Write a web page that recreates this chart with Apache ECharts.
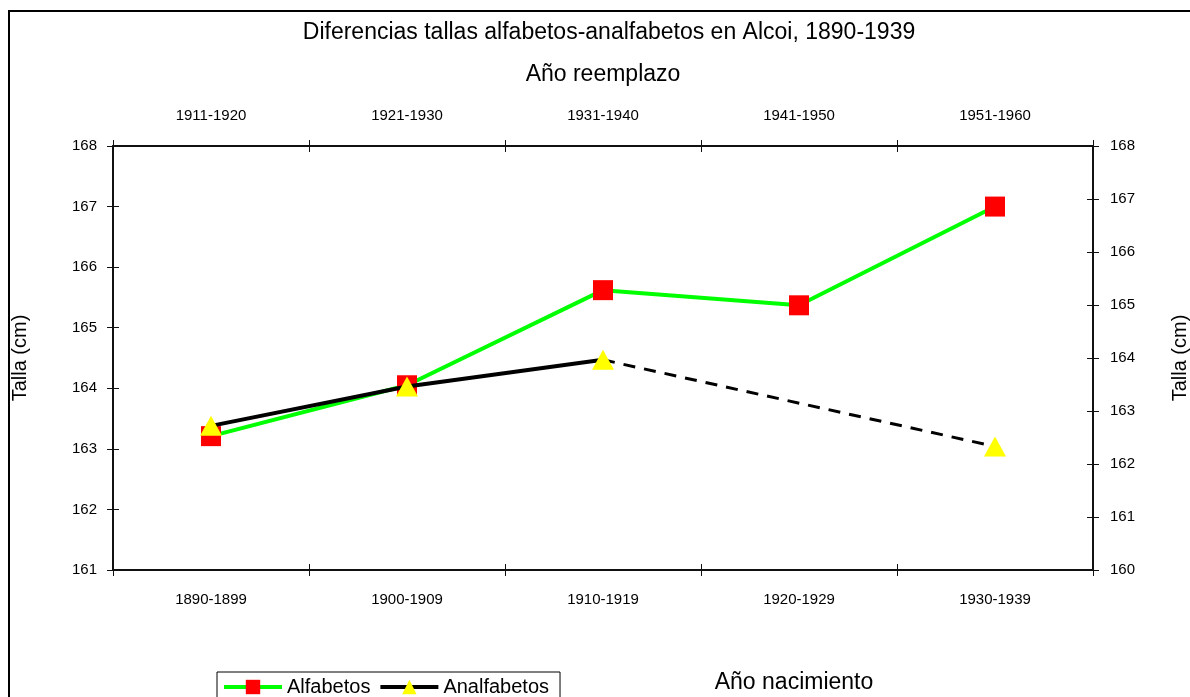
<!DOCTYPE html>
<html>
<head>
<meta charset="utf-8">
<script src="https://cdn.jsdelivr.net/npm/echarts@6/dist/echarts.min.js"></script>
<style>html,body{margin:0;padding:0;background:#fff;overflow:hidden}#c{width:1190px;height:697px}</style>
</head>
<body>
<div id="c"></div>
<script>
const categoriasNacimiento = ['1890-1899', '1900-1909', '1910-1919', '1920-1929', '1930-1939'];
const categoriasReemplazo = ['1911-1920', '1921-1930', '1931-1940', '1941-1950', '1951-1960'];
const alfabetos = [163.21, 164.05, 165.62, 165.37, 167.0];
const analfabetos = [163.38, 164.03, 164.47, null, 163.04];

// dashed bridge across missing values of analfabetos
const analfabetosTramo = analfabetos.map((v, i) => {
  const prevNull = i + 1 < analfabetos.length && analfabetos[i + 1] === null;
  const afterNull = i > 0 && analfabetos[i - 1] === null;
  return (prevNull || afterNull) ? v : null;
});

const FONT = "'Liberation Sans', Arial, sans-serif";
const chart = echarts.init(document.getElementById('c'), null, { width: 1190, height: 697 });
const axisLine = { show: true, lineStyle: { color: '#111', width: 2 } };
const tick = (inside, len) => ({ show: true, inside: inside, length: len, lineStyle: { color: '#111', width: 1 } });

chart.setOption({
  animation: false,
  backgroundColor: '#fff',
  textStyle: { fontFamily: FONT, color: '#000' },
  title: [
    { text: 'Diferencias tallas alfabetos-analfabetos en Alcoi, 1890-1939', left: 604, top: 16, textAlign: 'center',
      textStyle: { fontFamily: FONT, fontSize: 23, fontWeight: 'normal', color: '#000' } },
    { text: 'Año nacimiento', left: 789, top: 666, textAlign: 'center',
      textStyle: { fontFamily: FONT, fontSize: 23, fontWeight: 'normal', color: '#000' } }
  ],
  graphic: [
    { type: 'rect', shape: { x: 9, y: 11, width: 1200, height: 700 }, style: { fill: null, stroke: '#000', lineWidth: 2 }, silent: true }
  ],
  legend: {
    left: 217, top: 672,
    data: [
      { name: 'Alfabetos', itemStyle: { color: '#FF0000' }, lineStyle: { color: '#00FF00', width: 4 } },
      { name: 'Analfabetos', itemStyle: { color: '#FFFF00' }, lineStyle: { color: '#000', width: 4 } }
    ],
    borderColor: '#000', borderWidth: 1, borderRadius: 0,
    padding: [5, 11, 8, 5],
    itemWidth: 58, itemHeight: 18, itemGap: 8,
    textStyle: { fontFamily: FONT, fontSize: 20, color: '#000' }
  },
  grid: { left: 113, right: 97, top: 146, bottom: 127, containLabel: false, outerBoundsMode: 'none' },
  xAxis: [
    { type: 'category', position: 'bottom', data: categoriasNacimiento, boundaryGap: true,
      axisLine: axisLine, axisTick: tick(false, 6),
      axisLabel: { fontFamily: FONT, fontSize: 15, color: '#000', margin: 22 } },
    { type: 'category', position: 'top', data: categoriasReemplazo, boundaryGap: true,
      axisLine: axisLine, axisTick: tick(false, 6),
      axisLabel: { fontFamily: FONT, fontSize: 15, color: '#000', margin: 23 },
      name: 'Año reemplazo', nameLocation: 'middle', nameGap: 60,
      nameTextStyle: { fontFamily: FONT, fontSize: 23, color: '#000' } },
    { type: 'category', position: 'bottom', data: categoriasNacimiento, boundaryGap: true,
      axisLine: { show: false }, axisTick: tick(true, 6), axisLabel: { show: false } },
    { type: 'category', position: 'top', data: categoriasReemplazo, boundaryGap: true,
      axisLine: { show: false }, axisTick: tick(true, 6), axisLabel: { show: false } }
  ],
  yAxis: [
    { type: 'value', position: 'left', min: 161, max: 168, interval: 1,
      axisLine: axisLine, axisTick: tick(false, 6), splitLine: { show: false },
      axisLabel: { fontFamily: FONT, fontSize: 15, color: '#000', margin: 16 },
      name: 'Talla (cm)', nameLocation: 'middle', nameGap: 83, nameRotate: 90,
      nameTextStyle: { fontFamily: FONT, fontSize: 20, color: '#000' } },
    { type: 'value', position: 'right', min: 160, max: 168, interval: 1,
      axisLine: axisLine, axisTick: tick(false, 6), splitLine: { show: false },
      axisLabel: { fontFamily: FONT, fontSize: 15, color: '#000', margin: 17 },
      name: 'Talla (cm)', nameLocation: 'middle', nameGap: 77, nameRotate: 90,
      nameTextStyle: { fontFamily: FONT, fontSize: 20, color: '#000' } },
    { type: 'value', position: 'left', min: 161, max: 168, interval: 1,
      axisLine: { show: false }, axisTick: tick(true, 6), splitLine: { show: false }, axisLabel: { show: false } },
    { type: 'value', position: 'right', min: 160, max: 168, interval: 1,
      axisLine: { show: false }, axisTick: tick(true, 6), splitLine: { show: false }, axisLabel: { show: false } }
  ],
  series: [
    { name: 'Alfabetos', type: 'line', xAxisIndex: 0, yAxisIndex: 0, data: alfabetos,
      symbol: 'rect', symbolSize: 20, showAllSymbol: true,
      lineStyle: { color: '#00FF00', width: 4 },
      itemStyle: { color: '#FF0000', borderWidth: 0 }, z: 3 },
    { name: 'Analfabetos (tramo sin dato)', type: 'line', xAxisIndex: 0, yAxisIndex: 0, data: analfabetosTramo,
      connectNulls: true, symbol: 'none', silent: true,
      lineStyle: { color: '#000', width: 3, type: [12, 9] }, z: 4 },
    { name: 'Analfabetos', type: 'line', xAxisIndex: 0, yAxisIndex: 0, data: analfabetos,
      connectNulls: false, symbol: 'triangle', symbolSize: [22, 20], showAllSymbol: true,
      lineStyle: { color: '#000', width: 4 },
      itemStyle: { color: '#FFFF00', borderWidth: 0 }, z: 5 }
  ]
});
</script>
</body>
</html>
